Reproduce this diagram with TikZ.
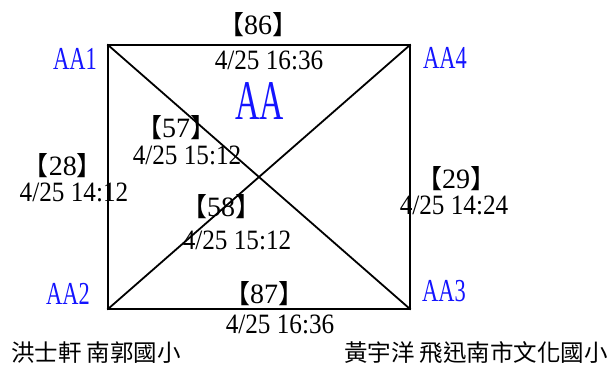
\documentclass[tikz,border=0pt]{standalone}
\usepackage{fontspec}
\setmainfont{Liberation Serif}
\newfontfamily\cjk{Noto Sans CJK TC}
\definecolor{labblue}{RGB}{20,20,255}
\tikzset{
  sideline/.style={line width=1.8pt, line cap=rect},
  cornerlab/.style={text=labblue, font=\fontsize{32}{34}\selectfont, inner sep=0pt},
  cntlab/.style={font=\fontsize{28}{30}\selectfont, inner sep=0pt, text height=19pt, text depth=0pt},
  timelab/.style={font=\fontsize{28}{30}\selectfont, inner sep=0pt, text height=18pt, text depth=0pt},
  personlab/.style={font=\cjk\fontsize{23.5}{25}\selectfont, inner sep=0pt}
}
\newcommand{\brk}[1]{{\cjk\fontsize{26}{28}\selectfont 【}#1{\cjk\fontsize{26}{28}\selectfont 】}}
\newcommand{\tmtxt}[1]{\scalebox{0.9}[1]{#1}}
\newcommand{\cnrtxt}[1]{\scalebox{0.7}[1]{#1}}
\begin{document}
\begin{tikzpicture}[x=1pt,y=-1pt]
\useasboundingbox (0,0) rectangle (611,367);
\coordinate (c1) at (108,45);
\coordinate (c4) at (410,45);
\coordinate (c2) at (108,309);
\coordinate (c3) at (410,309);
\draw[sideline] (c1) -- (c4) -- (c3) -- (c2) -- cycle;
\draw[sideline] (c1) -- (c3);
\draw[sideline] (c2) -- (c4);
\node[cornerlab] (l1) at (75,59) {\cnrtxt{AA1}};
\node[cornerlab] (l4) at (445,58) {\cnrtxt{AA4}};
\node[cornerlab] (l2) at (68,294) {\cnrtxt{AA2}};
\node[cornerlab] (l3) at (444,291) {\cnrtxt{AA3}};
\node[cornerlab, font=\fontsize{56}{60}\selectfont] (big) at (260,101) {\scalebox{0.6}[1]{AA}};
\node[cntlab] (n86) at (258,25) {\brk{86}};
\node[timelab] (t86) at (269,60) {\tmtxt{4/25 16:36}};
\node[cntlab] (n57) at (176,128) {\brk{57}};
\node[timelab] (t57) at (187,155) {\tmtxt{4/25 15:12}};
\node[cntlab] (n28) at (63,166) {\brk{28}};
\node[timelab] (t28) at (74,192) {\tmtxt{4/25 14:12}};
\node[cntlab] (n58) at (221,207) {\brk{58}};
\node[timelab] (t58) at (237,240) {\tmtxt{4/25 15:12}};
\node[cntlab] (n29) at (456,179) {\brk{29}};
\node[timelab] (t29) at (454,205) {\tmtxt{4/25 14:24}};
\node[cntlab] (n87) at (264,294) {\brk{87}};
\node[timelab] (t87) at (280,324) {\tmtxt{4/25 16:36}};
\node[personlab, anchor=west] (s1) at (11,353) {洪士軒 南郭國小};
\node[personlab, anchor=east] (s2) at (608,353) {黃宇洋 飛迅南市文化國小};
\end{tikzpicture}
\end{document}
